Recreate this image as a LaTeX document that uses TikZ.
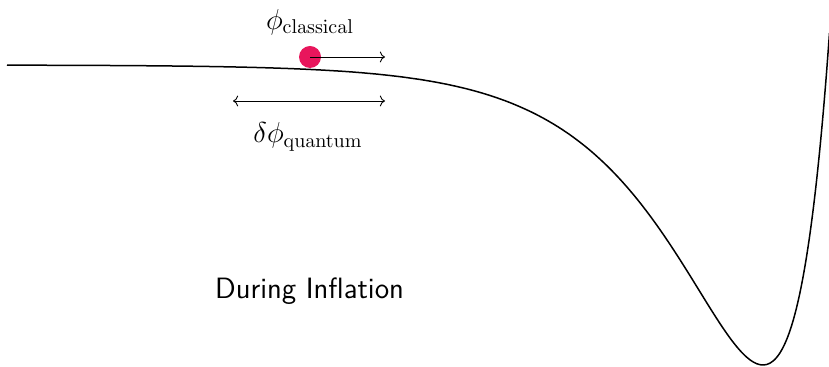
\documentclass[tikz,border=0pt]{standalone}
\usetikzlibrary{arrows.meta}
\definecolor{ballred}{RGB}{232,22,92}
\begin{document}
\begin{tikzpicture}[x=0.5pt,y=-0.5pt,
  potential/.style={line width=0.75pt},
  thinarrow/.style={line width=0.45pt},
  lbl/.style={font=\fontsize{14.7}{17}\selectfont, inner sep=0pt}]
\useasboundingbox (0,0) rectangle (829,367);
\draw[potential] plot[domain=7:829.5, samples=250, smooth]
  (\x, {365 - 300*(1-exp(-(763-\x)/92.5))^2});
\node[circle, fill=ballred, inner sep=0pt, minimum size=11pt] (ball) at (310,57) {};
\coordinate (cend) at (385,57);
\draw[thinarrow,->] (ball.center) -- (cend);
\coordinate (ql) at (233,101);
\coordinate (qr) at (385,101);
\draw[thinarrow,<->] (ql) -- (qr);
\node[lbl] (cl) at (310,22) {$\phi_{\mathrm{classical}}$};
\node[lbl] (qt) at (308,137) {$\delta\phi_{\mathrm{quantum}}$};
\node[lbl, font=\fontsize{14.7}{17}\selectfont\sffamily] (di) at (309.5,291) {During Inflation};
\end{tikzpicture}
\end{document}
